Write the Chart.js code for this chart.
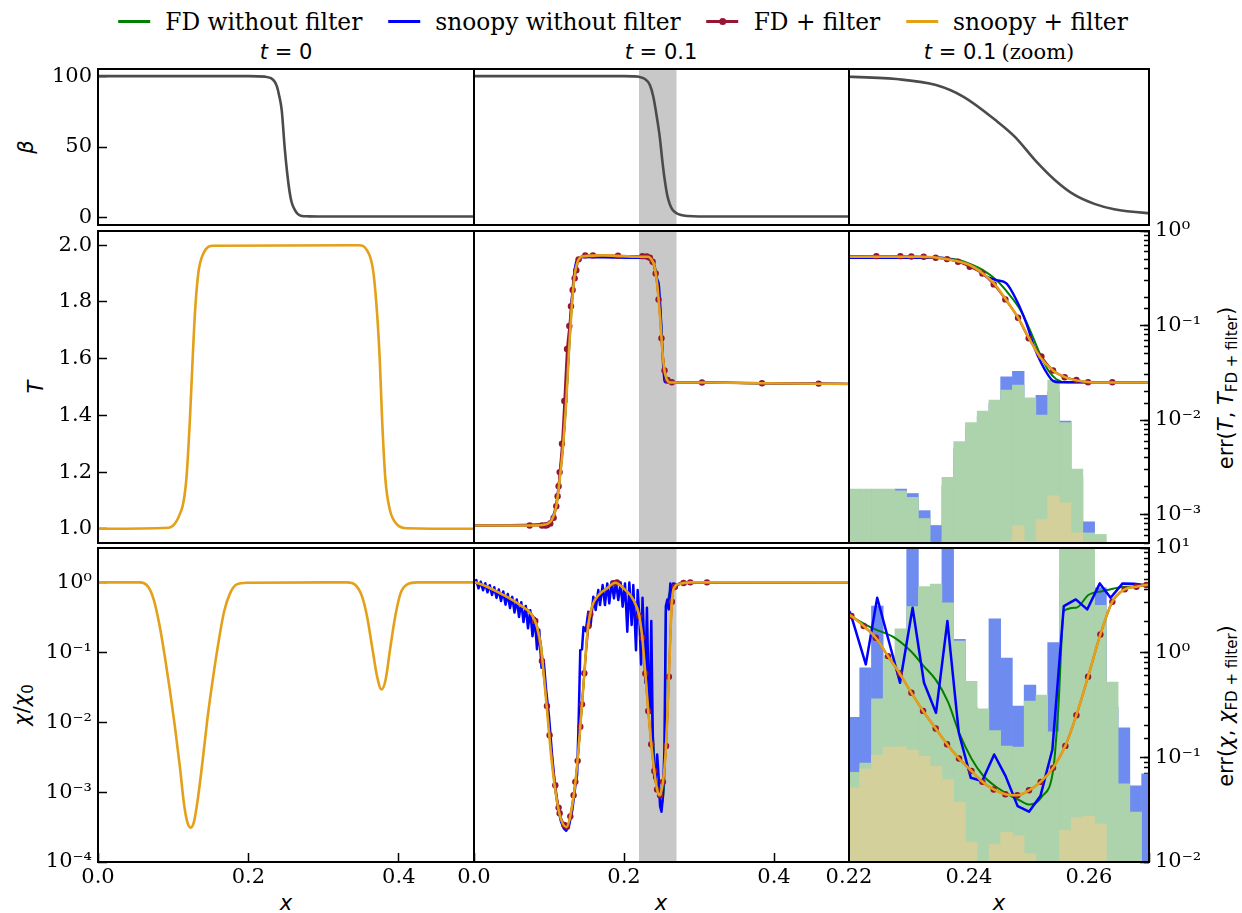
<!DOCTYPE html>
<html>
<head>
<meta charset="utf-8">
<title>FD vs snoopy</title>
<script src="https://cdn.jsdelivr.net/npm/chart.js@4.4.1/dist/chart.umd.min.js"></script>
<style>
  body { margin: 0; background: #fff; }
  #fig { position: relative; width: 1242px; height: 913px; overflow: hidden; background: #fff; }
  #fig canvas { position: absolute; }
  .txt { position: absolute; white-space: nowrap; color: #000; line-height: 1; font-size: 21px; }
  .serif { font-family: 'DejaVu Serif', serif; }
  .sans { font-family: 'DejaVu Sans', sans-serif; }
  .ctr { transform: translateX(-50%); }
  .rot { transform: translate(-50%, -50%) rotate(-90deg); }
  #legend { display: flex; align-items: center; font-size: 23.3px; }
  #legend .item { display: flex; align-items: center; margin: 0 13px; }
  #legend .sw { position: relative; width: 32px; height: 2.5px; margin-right: 15px; }
  #legend .dot { position: absolute; left: 12.5px; top: -2.5px; width: 7px; height: 7px; border-radius: 50%; }
  sub { font-size: 15px; vertical-align: -4px; }
</style>
</head>
<body>
<div id="fig">
  <div id="legend" class="txt serif ctr" style="left:623px; top:10px;">
    <span class="item"><span class="sw" style="background:#008000"></span>FD without filter</span>
    <span class="item"><span class="sw" style="background:#0000ff"></span>snoopy without filter</span>
    <span class="item"><span class="sw" style="background:#951535"><span class="dot" style="background:#951535"></span></span>FD + filter</span>
    <span class="item"><span class="sw" style="background:#e3a018"></span>snoopy + filter</span>
  </div>
  <div class="txt sans ctr" style="left:286px; top:42px;"><i>t</i> = 0</div>
  <div class="txt sans ctr" style="left:661px; top:42px;"><i>t</i> = 0.1</div>
  <div class="txt ctr" style="left:999px; top:42px;"><span class="sans"><i>t</i> = 0.1</span> <span class="serif">(zoom)</span></div>
  <div class="txt sans rot" style="left:26px; top:147px;"><i>β</i></div>
  <div class="txt sans rot" style="left:36px; top:387px;"><i>T</i></div>
  <div class="txt sans rot" style="left:24px; top:705px;"><i>χ</i>/<i>χ</i><sub>0</sub></div>
  <div class="txt sans rot" style="left:1228px; top:388px;">err(<i>T</i>, <i>T</i><sub>FD + filter</sub>)</div>
  <div class="txt sans rot" style="left:1228px; top:706px;">err(<i>χ</i>, <i>χ</i><sub>FD + filter</sub>)</div>
  <div class="txt sans ctr" style="left:286px; top:893px;"><i>x</i></div>
  <div class="txt sans ctr" style="left:661px; top:893px;"><i>x</i></div>
  <div class="txt sans ctr" style="left:999px; top:893px;"><i>x</i></div>
</div>
<script>
// ---- ticks
const xTicksFull = [0, 0.2, 0.4];
const xTicksZoom = [0.22, 0.24, 0.26];
const zoomX = [0.22, 0.27];
const betaTicks = [0, 50, 100];
const tTicks = [1.0, 1.2, 1.4, 1.6, 1.8, 2.0];
const chiTicks = [1e-4, 1e-3, 1e-2, 1e-1, 1];
const errTTicks = [1e-3, 1e-2, 1e-1, 1];
const errChiTicks = [1e-2, 1e-1, 1, 10];

// ---- beta
const betaX0 = [0, 0.2, 0.222, 0.23, 0.235, 0.238, 0.241, 0.2443, 0.2485, 0.2538, 0.2575, 0.2617, 0.2655, 0.2696, 0.28, 0.3, 0.5];
const betaY0 = [100, 100, 99.6, 98.5, 96, 92.5, 86, 76, 48, 22, 11, 5.6, 2.8, 1.6, 1.1, 1, 1];
const betaX1 = [0, 0.2, 0.212, 0.22, 0.2279, 0.2345, 0.2391, 0.2444, 0.2477, 0.251, 0.2543, 0.2576, 0.2609, 0.2642, 0.27, 0.276, 0.285, 0.3, 0.5];
const betaY1 = [100, 100, 99.8, 99.5, 97.9, 93.7, 85.4, 69, 57, 40.8, 26.8, 16.2, 9.9, 6.1, 3.3, 2.0, 1.3, 1.0, 1.0];

// ---- T at t = 0
const t0X = [0, 0.0933, 0.1, 0.1044, 0.1085, 0.1125, 0.1152, 0.1178, 0.1222, 0.1258, 0.1289, 0.1333, 0.14, 0.1533, 0.3467, 0.3578, 0.3658, 0.3711, 0.3747, 0.3778, 0.3822, 0.388, 0.3978, 0.4111, 0.5];
const t0Y = [1, 1.0035, 1.012, 1.027, 1.05, 1.08, 1.12, 1.185, 1.385, 1.595, 1.76, 1.9, 1.97, 1.998, 2.0, 1.982, 1.912, 1.76, 1.595, 1.385, 1.174, 1.068, 1.015, 1.002, 1.0];

// ---- T at t = 0.1
const sfTX = [0, 0.0751, 0.0951, 0.104, 0.1098, 0.1142, 0.1187, 0.1231, 0.1267, 0.1298, 0.1329, 0.1373, 0.1462, 0.1729, 0.2201, 0.2323, 0.2362, 0.2401, 0.2423, 0.2443, 0.2462, 0.2482, 0.25, 0.2518, 0.254, 0.2562, 0.2585, 0.2607, 0.2701, 0.3062, 0.384, 0.5];
const sfTY = [1.0117, 1.0117, 1.015, 1.033, 1.08, 1.173, 1.29, 1.455, 1.63, 1.76, 1.865, 1.935, 1.961, 1.964, 1.959, 1.959, 1.951, 1.930, 1.900, 1.862, 1.807, 1.744, 1.672, 1.607, 1.558, 1.533, 1.521, 1.516, 1.516, 1.516, 1.513, 1.511];
const fdTX = [0.0742, 0.0906, 0.0951, 0.0973, 0.1017, 0.1062, 0.1097, 0.1115, 0.1128, 0.1142, 0.1173, 0.1204, 0.124, 0.1271, 0.1293, 0.1315, 0.1342, 0.1364, 0.1395, 0.1484, 0.1586, 0.192, 0.22456, 0.22856, 0.23039, 0.23245, 0.23445, 0.23634, 0.23817, 0.24012, 0.24223, 0.24412, 0.24606, 0.24817, 0.24995, 0.25206, 0.25401, 0.25595, 0.2579, 0.25984, 0.26389, 0.304, 0.384, 0.4595];
const fdTY = [1.0117, 1.0117, 1.0117, 1.0129, 1.0188, 1.0387, 1.0797, 1.1149, 1.15, 1.2, 1.3, 1.451, 1.634, 1.715, 1.785, 1.842, 1.883, 1.912, 1.95, 1.964, 1.964, 1.963, 1.9613, 1.9613, 1.9601, 1.959, 1.9555, 1.951, 1.9414, 1.9238, 1.8999, 1.8617, 1.8089, 1.7444, 1.6717, 1.6073, 1.558, 1.5346, 1.5252, 1.517, 1.517, 1.516, 1.513, 1.512];
const fdTEndX = [0, 0.5];
const fdTEndY = [1.0117, 1.511];
const fdnTX = [0, 0.0951, 0.104, 0.1098, 0.1142, 0.1187, 0.1231, 0.1267, 0.1298, 0.1329, 0.1373, 0.1462, 0.1729, 0.2201, 0.2323, 0.23789, 0.24067, 0.24234, 0.24456, 0.24678, 0.24873, 0.2504, 0.25178, 0.25317, 0.25456, 0.25623, 0.27, 0.31, 0.384, 0.5];
const fdnTY = [1.0117, 1.015, 1.033, 1.08, 1.173, 1.29, 1.455, 1.63, 1.76, 1.865, 1.935, 1.960, 1.962, 1.960, 1.958, 1.9496, 1.9297, 1.912, 1.8769, 1.8241, 1.7655, 1.6893, 1.619, 1.5604, 1.5275, 1.517, 1.516, 1.516, 1.513, 1.511];
const snTX = [0, 0.0951, 0.104, 0.1098, 0.1142, 0.1187, 0.1231, 0.1267, 0.1298, 0.1329, 0.1373, 0.1462, 0.1729, 0.2201, 0.23512, 0.23789, 0.24067, 0.24289, 0.24456, 0.24623, 0.2479, 0.24956, 0.25095, 0.25206, 0.25317, 0.254, 0.25512, 0.27, 0.31, 0.384, 0.5];
const snTY = [1.0117, 1.016, 1.036, 1.088, 1.185, 1.305, 1.475, 1.655, 1.785, 1.885, 1.948, 1.958, 1.957, 1.9555, 1.9555, 1.9449, 1.9238, 1.8898, 1.8769, 1.8652, 1.8066, 1.7245, 1.6366, 1.5838, 1.5428, 1.5217, 1.517, 1.517, 1.516, 1.513, 1.511];

// ---- chi at t = 0
const chi0X = [0, 0.0556, 0.0667, 0.0743, 0.0813, 0.0889, 0.0956, 0.1023, 0.1089, 0.1143, 0.1187, 0.1232, 0.1276, 0.1325, 0.1392, 0.1453, 0.1525, 0.16, 0.1676, 0.1756, 0.1845, 0.1979, 0.3312, 0.3423, 0.3512, 0.3578, 0.3645, 0.3712, 0.3769, 0.3823, 0.3889, 0.3956, 0.4023, 0.4112, 0.4245, 0.5];
const chi0Y = [1, 1, 0.867, 0.558, 0.259, 0.0863, 0.0287, 0.00857, 0.00229, 0.000684, 0.000374, 0.00031, 0.000374, 0.000764, 0.00286, 0.0107, 0.0399, 0.134, 0.38, 0.695, 0.935, 0.989, 1, 0.916, 0.624, 0.324, 0.12, 0.0446, 0.0294, 0.0399, 0.12, 0.34, 0.695, 0.935, 1, 1];

// ---- chi at t = 0.1
const sfChiX = [0, 0.0173, 0.0395, 0.0617, 0.0773, 0.084, 0.0893, 0.0937, 0.0982, 0.1026, 0.1084, 0.1151, 0.1231, 0.1306, 0.1364, 0.1417, 0.1471, 0.1515, 0.1573, 0.1662, 0.1773, 0.1884, 0.1995, 0.2128, 0.2204, 0.22245, 0.22445, 0.2265, 0.22845, 0.2304, 0.23234, 0.23445, 0.23634, 0.23834, 0.2404, 0.24223, 0.24412, 0.24606, 0.24806, 0.25, 0.25195, 0.25401, 0.25606, 0.2579, 0.25984, 0.2619, 0.26389, 0.26595, 0.2679, 0.26956, 0.2728, 0.2884, 0.5];
const sfChiY = [1.02, 0.867, 0.659, 0.473, 0.34, 0.232, 0.12, 0.0399, 0.0119, 0.00356, 0.00106, 0.00044, 0.000317, 0.000613, 0.00184, 0.00857, 0.0498, 0.208, 0.449, 0.659, 0.82, 0.989, 0.82, 0.558, 0.33, 0.237, 0.161, 0.0881, 0.0498, 0.0263, 0.0145, 0.00811, 0.00484, 0.00302, 0.00201, 0.0014, 0.00109, 0.00093, 0.0009, 0.00106, 0.0014, 0.00222, 0.00458, 0.0126, 0.0446, 0.18, 0.529, 0.794, 0.867, 0.916, 0.947, 1.0, 1.0];
const fdChiMarkX = [0.0817, 0.0906, 0.0973, 0.1008, 0.1084, 0.1128, 0.1142, 0.1204, 0.124, 0.1284, 0.1328, 0.1351, 0.1382, 0.1417, 0.144, 0.1471, 0.1529, 0.1551, 0.1862, 0.1906, 0.2204, 0.22245, 0.22445, 0.2265, 0.22845, 0.2304, 0.23234, 0.23445, 0.23634, 0.23834, 0.2404, 0.24223, 0.24412, 0.24606, 0.24806, 0.25, 0.25195, 0.25401, 0.25606, 0.2579, 0.25984, 0.2619, 0.26389, 0.26595, 0.2679, 0.26956, 0.2795, 0.2884, 0.3106];
const fdChiMarkY = [0.28, 0.075, 0.017, 0.0065, 0.00125, 0.0006, 0.0005, 0.00034, 0.00032, 0.00045, 0.0009, 0.0014, 0.0028, 0.0086, 0.018, 0.05, 0.24, 0.35, 0.97, 1.0, 0.33, 0.237, 0.161, 0.0881, 0.0498, 0.0263, 0.0145, 0.00811, 0.00484, 0.00302, 0.00201, 0.0014, 0.00109, 0.00093, 0.0009, 0.00106, 0.0014, 0.00222, 0.00458, 0.0126, 0.0446, 0.18, 0.529, 0.794, 0.867, 0.916, 0.98, 1.0, 1.0];
const fdChiSmoothX = [0, 0.0173, 0.0395, 0.0617, 0.0773, 0.1662, 0.1773, 0.1995, 0.2128, 0.5];
const fdChiSmoothY = [1.0, 0.867, 0.659, 0.473, 0.34, 0.659, 0.82, 0.82, 0.558, 1.0];
const fdnChiX = [0, 0.0173, 0.0395, 0.0617, 0.0773, 0.084, 0.0893, 0.0937, 0.0982, 0.1026, 0.1084, 0.1151, 0.1231, 0.1306, 0.1364, 0.1417, 0.1471, 0.1515, 0.1573, 0.1662, 0.1773, 0.1884, 0.1995, 0.2128, 0.2201, 0.224, 0.2273, 0.2304, 0.2323, 0.2345, 0.2365, 0.2384, 0.2404, 0.2423, 0.2445, 0.2468, 0.2484, 0.2501, 0.2521, 0.2541, 0.2549, 0.2558, 0.2579, 0.2599, 0.2623, 0.2648, 0.2674, 0.2701, 0.28, 0.5];
const fdnChiY = [1.02, 0.87, 0.66, 0.475, 0.345, 0.24, 0.13, 0.045, 0.013, 0.0039, 0.0011, 0.00045, 0.00032, 0.0006, 0.0018, 0.0085, 0.05, 0.21, 0.45, 0.66, 0.82, 0.98, 0.82, 0.56, 0.33, 0.219, 0.167, 0.1017, 0.0655, 0.0399, 0.0195, 0.00689, 0.00302, 0.00174, 0.00119, 0.0009, 0.000764, 0.000662, 0.000853, 0.00229, 0.0166, 0.389, 0.434, 0.66, 0.75, 0.84, 0.87, 0.9, 0.97, 1.0];
const snChiX = [0, 0.003, 0.006, 0.009, 0.012, 0.015, 0.018, 0.021, 0.024, 0.027, 0.030, 0.033, 0.036, 0.039, 0.042, 0.045, 0.048, 0.051, 0.054, 0.057, 0.060, 0.063, 0.066, 0.069, 0.072, 0.075, 0.078, 0.081, 0.084, 0.087,
  0.090, 0.093, 0.096, 0.100, 0.104, 0.108, 0.112, 0.116, 0.120, 0.123, 0.127, 0.131, 0.135, 0.1375, 0.1395, 0.1417, 0.144, 0.146, 0.149,
  0.1524, 0.1555, 0.1591, 0.1622, 0.1657, 0.168, 0.1715, 0.1746, 0.1777, 0.1804, 0.1835, 0.1866, 0.1893, 0.1924, 0.1955, 0.1982, 0.2013, 0.2044, 0.2071, 0.2102, 0.2124, 0.216, 0.2182,
  0.2203, 0.2228, 0.2247, 0.2285, 0.2306, 0.2325, 0.2345, 0.2364, 0.2383, 0.2403, 0.2422, 0.2442, 0.2461, 0.2481, 0.25, 0.2519, 0.2539, 0.2558, 0.2578, 0.2597, 0.2618, 0.2636, 0.2656, 0.2675, 0.2698,
  0.275, 0.29, 0.5];
const snChiY = [1.0, 1.08, 0.82, 1.02, 0.77, 0.97, 0.72, 0.91, 0.66, 0.85, 0.60, 0.79, 0.54, 0.74, 0.48, 0.68, 0.43, 0.62, 0.37, 0.57, 0.32, 0.52, 0.27, 0.46, 0.22, 0.40, 0.17, 0.31, 0.11, 0.21,
  0.06, 0.075, 0.03, 0.012, 0.0035, 0.0012, 0.0006, 0.00038, 0.0003, 0.00028, 0.00034, 0.00055, 0.0012, 0.0018, 0.01, 0.107, 0.11, 0.23, 0.2,
  0.38, 0.245, 0.622, 0.402, 0.776, 0.473, 0.915, 0.473, 0.966, 0.5, 1.02, 0.59, 1.02, 0.558, 0.995, 0.448, 0.966, 0.197, 0.995, 0.245, 0.915, 0.107, 0.776,
  0.348, 0.0671, 0.603, 0.0366, 0.434, 0.0366, 0.0136, 0.279, 0.00706, 0.0016, 0.00144, 0.00345, 0.00169, 0.00063, 0.000524, 0.000877, 0.00407, 0.458, 0.57, 0.41, 0.966, 0.603, 0.966, 0.955, 0.905,
  0.98, 1.0, 1.0];

// ---- error histograms in the zoom window (bin centres)
const histX = [0.2208, 0.22276, 0.22472, 0.22667, 0.22863, 0.23059, 0.23255, 0.23451, 0.23646, 0.23842, 0.24038, 0.24234, 0.2443, 0.24625, 0.24821, 0.25017, 0.25213, 0.25409, 0.25604, 0.258, 0.25996, 0.26192, 0.26388, 0.26583, 0.26779, 0.26975];
const errTsn = [0.0018, 0.0018, 0.0018, 0.0018, 0.00186, 0.00167, 0.0011, 0.000766, 0.002, 0.005, 0.008, 0.011, 0.015, 0.0286, 0.0328, 0.015, 0.0183, 0.02, 0.00973, 0.0025, 0.000838, null, null, null, null, null];
const errTfd = [0.00186, 0.00186, 0.00186, 0.00186, 0.00178, 0.00152, 0.000908, null, 0.00247, 0.00591, 0.00938, 0.01245, 0.01625, 0.0207, 0.0234, 0.0172, 0.0113, 0.0264, 0.00938, 0.00303, 0.00064, 0.000616, null, null, null, null];
const errTsf = [null, null, null, null, null, null, null, null, null, null, null, null, null, 0.00052, 0.000766, 0.00052, 0.000885, 0.00158, 0.00133, 0.00064, null, null, null, null, null, null];
const errChisn = [0.241, 0.716, 2.78, 0.5, 0.8, 15, 2, 2, 15, 1.34, 0.3, 0.2, 2.1, 0.89, 0.308, 0.489, 0.2, 1.25, 5, 5, 5, 4.17, 0.3, 0.191, 0.0535, 0.0694];
const errChifd = [0.072, 0.0883, 0.362, 0.94, 1.69, 2.75, 4.27, 4.53, 3.0, 1.29, 0.533, 0.29, 0.18, 0.128, 0.125, 0.344, 0.393, 0.175, 15, 15, 15, 2.84, 0.523, 0.0557, 0.030, null];
const errChisf = [0.051, 0.0774, 0.105, 0.125, 0.126, 0.117, 0.102, 0.082, 0.0612, 0.0372, 0.0155, null, 0.0147, 0.0192, 0.0178, 0.012, null, null, 0.0201, 0.0264, 0.0273, 0.0231, null, null, null, null];

// ---- layout
const PANEL_COLS = [[98, 474], [474, 849], [849, 1149]];
const PANEL_ROWS = [[69, 225], [231, 543], [548, 862]];
const M = {l: 80, r: 80, t: 40, b: 45};

const C_GREEN = '#008000', C_BLUE = '#0000ff', C_FD = '#951535', C_ORANGE = '#e3a018', C_BETA = '#4b4b4b';
const H_BLUE = '#6e8bef', H_GREEN = '#acd3ac', H_KHAKI = '#d3d09b';
const tickFont = {family: "'DejaVu Serif'", size: 21};

const SUP = {'-': '\u207b', '0': '\u2070', '1': '\u00b9', '2': '\u00b2', '3': '\u00b3', '4': '\u2074', '5': '\u2075', '6': '\u2076', '7': '\u2077', '8': '\u2078', '9': '\u2079'};
const sciLabel = v => '10' + String(Math.round(Math.log10(v))).split('').map(c => SUP[c]).join('');

const pts = (xs, ys) => xs.map((x, i) => ({x: x, y: ys[i]}));

function line(xs, ys, color, width, order, extra) {
  return Object.assign({
    type: 'line', data: pts(xs, ys), borderColor: color, backgroundColor: color,
    borderWidth: width, pointRadius: 0, cubicInterpolationMode: 'monotone', fill: false, order: order
  }, extra || {});
}

function hist(ys, color, order) {
  return {
    type: 'bar', data: pts(histX, ys), backgroundColor: color, borderWidth: 0,
    barPercentage: 1, categoryPercentage: 1, grouped: false, yAxisID: 'yR', order: order, clip: 0
  };
}

function tickGrid(len) {
  return {display: true, drawOnChartArea: false, drawTicks: true, tickLength: -len, tickWidth: 1.5, tickColor: '#000'};
}
const fixedTicks = values => s => { s.ticks = values.map(v => ({value: v})); };

function xScale(row, col) {
  const zoom = col === 2;
  const s = {
    type: 'linear', position: 'bottom', offset: false, bounds: 'data',
    min: zoom ? zoomX[0] : 0, max: zoom ? zoomX[1] : 0.5,
    display: row === 2,
    afterBuildTicks: fixedTicks(zoom ? xTicksZoom : xTicksFull),
    border: {display: false},
    grid: tickGrid(9),
    ticks: {font: tickFont, color: '#000', padding: 12, maxRotation: 0, autoSkip: false,
            callback: v => v.toFixed(zoom ? 2 : 1)},
    z: 1
  };
  if (row === 2) s.afterFit = sc => { sc.height = M.b; };
  return s;
}

function yLeft(row, col) {
  const s = {
    position: 'left', display: col === 0, bounds: 'data', border: {display: false}, grid: tickGrid(9),
    ticks: {font: tickFont, color: '#000', padding: 15, autoSkip: false}, z: 1
  };
  if (col === 0) s.afterFit = sc => { sc.width = M.l; };
  if (row === 0) {
    Object.assign(s, {type: 'linear', min: -5, max: 105, afterBuildTicks: fixedTicks(betaTicks)});
    s.ticks.callback = v => String(v);
  } else if (row === 1) {
    Object.assign(s, {type: 'linear', min: 0.95, max: 2.05, afterBuildTicks: fixedTicks(tTicks)});
    s.ticks.callback = v => v.toFixed(1);
  } else {
    Object.assign(s, {type: 'logarithmic', min: 1e-4, max: 3.1, afterBuildTicks: fixedTicks(chiTicks)});
    s.ticks.callback = sciLabel;
  }
  return s;
}

function yRight(row) {
  const r = row === 1 ? [5e-4, 1, errTTicks] : [1e-2, 10, errChiTicks];
  return {
    yR: {type: 'logarithmic', position: 'right', weight: 1, bounds: 'data', min: r[0], max: r[1],
         border: {display: false}, grid: tickGrid(9), afterBuildTicks: fixedTicks(r[2]),
         afterFit: s => { s.width = M.r; },
         ticks: {font: tickFont, color: '#000', padding: 15, autoSkip: false, callback: sciLabel}, z: 1},
    yRm: {type: 'logarithmic', position: 'right', weight: 0, bounds: 'data', min: r[0], max: r[1],
          border: {display: false}, grid: tickGrid(5),
          afterFit: s => { s.width = 0; }, ticks: {display: false}, z: 1}
  };
}

const framePlugin = {
  id: 'frame',
  afterDraw(chart) {
    const {ctx, chartArea: a} = chart;
    ctx.save();
    ctx.strokeStyle = '#000';
    ctx.lineWidth = 2;
    ctx.strokeRect(a.left, a.top, a.right - a.left, a.bottom - a.top);
    ctx.restore();
  }
};

const bandPlugin = {
  id: 'band',
  beforeDatasetsDraw(chart) {
    const {ctx, chartArea: a, scales: {x}} = chart;
    const l = x.getPixelForValue(zoomX[0]), r = x.getPixelForValue(zoomX[1]);
    ctx.save();
    ctx.fillStyle = '#c8c8c8';
    ctx.fillRect(l, a.top, r - l, a.bottom - a.top);
    ctx.restore();
  }
};

// markers: in the full t = 0.1 view only every other one inside the zoom window
const markerRadius = col => c => {
  if (col !== 1) return 3.2;
  const x = c.raw.x;
  return (x > zoomX[0] && x < zoomX[1] && c.dataIndex % 2) ? 0 : 3.2;
};

function fdMarkers(xs, ys, col) {
  return {type: 'line', data: pts(xs, ys), showLine: false, pointRadius: markerRadius(col),
          pointBackgroundColor: C_FD, pointBorderWidth: 0, borderColor: C_FD, order: 1};
}

function datasetsFor(row, col) {
  if (row === 0) {
    return col === 0 ? [line(betaX0, betaY0, C_BETA, 2.6, 0)] : [line(betaX1, betaY1, C_BETA, 2.6, 0)];
  }
  if (row === 1) {
    if (col === 0) return [line(t0X, t0Y, C_ORANGE, 2.6, 0)];
    const fdLine = pts(fdTEndX, fdTEndY).concat(pts(fdTX, fdTY)).sort((a, b) => a.x - b.x);
    const ds = [
      line(sfTX, sfTY, C_ORANGE, 2.6, 0),
      fdMarkers(fdTX, fdTY, col),
      Object.assign(line([], [], C_FD, 2, 2), {data: fdLine}),
      line(snTX, snTY, C_BLUE, 2.4, 3),
      line(fdnTX, fdnTY, C_GREEN, 2, 4)
    ];
    if (col === 2) ds.push(hist(errTsf, H_KHAKI, 10), hist(errTfd, H_GREEN, 11), hist(errTsn, H_BLUE, 12));
    return ds;
  }
  if (col === 0) return [line(chi0X, chi0Y, C_ORANGE, 2.6, 0)];
  const fdLine = pts(fdChiSmoothX, fdChiSmoothY).concat(pts(fdChiMarkX, fdChiMarkY)).sort((a, b) => a.x - b.x);
  const ds = [
    line(sfChiX, sfChiY, C_ORANGE, 2.6, 0),
    fdMarkers(fdChiMarkX, fdChiMarkY, col),
    Object.assign(line([], [], C_FD, 2, 2), {data: fdLine}),
    line(snChiX, snChiY, C_BLUE, 2.5, 3, {cubicInterpolationMode: 'default', tension: 0}),
    line(fdnChiX, fdnChiY, C_GREEN, 2, 4)
  ];
  if (col === 2) ds.push(hist(errChisf, H_KHAKI, 10), hist(errChifd, H_GREEN, 11), hist(errChisn, H_BLUE, 12));
  return ds;
}

const fig = document.getElementById('fig');

for (let row = 0; row < 3; row++) {
  for (let col = 0; col < 3; col++) {
    const [x0, x1] = PANEL_COLS[col], [y0, y1] = PANEL_ROWS[row];
    const cv = document.createElement('canvas');
    cv.width = x1 - x0 + M.l + M.r;
    cv.height = y1 - y0 + M.t + M.b;
    cv.style.left = (x0 - M.l) + 'px';
    cv.style.top = (y0 - M.t) + 'px';
    fig.appendChild(cv);

    const scales = {x: xScale(row, col), y: yLeft(row, col)};
    const hasRight = col === 2 && row > 0;
    if (hasRight) Object.assign(scales, yRight(row));

    const plugins = [framePlugin];
    if (col === 1) plugins.push(bandPlugin);

    new Chart(cv, {
      type: 'line',
      data: {datasets: datasetsFor(row, col)},
      options: {
        responsive: false, animation: false, devicePixelRatio: 1,
        layout: {padding: {
          left: col === 0 ? 0 : M.l,
          right: hasRight ? 0 : M.r,
          top: M.t,
          bottom: row === 2 ? 0 : M.b
        }},
        elements: {line: {borderJoinStyle: 'round', borderCapStyle: 'round'}},
        plugins: {legend: {display: false}, tooltip: {enabled: false}},
        scales: scales
      },
      plugins: plugins
    });
  }
}
</script>
</body>
</html>
